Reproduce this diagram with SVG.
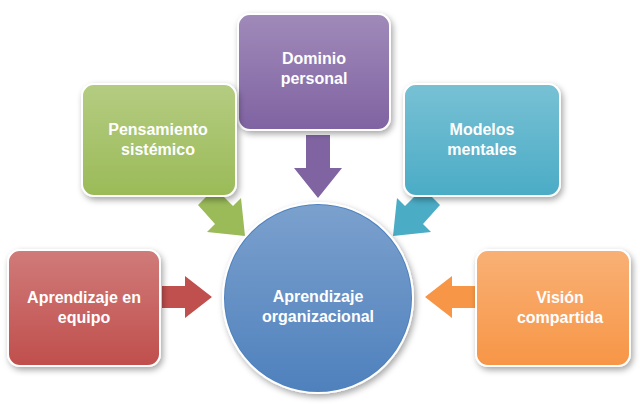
<svg xmlns="http://www.w3.org/2000/svg" width="640" height="412" viewBox="0 0 640 412">
<defs>
<filter id="sh" x="-20%" y="-20%" width="140%" height="140%"><feDropShadow dx="2" dy="3" stdDeviation="3" flood-color="#000" flood-opacity="0.35"/></filter>
<linearGradient id="gl" x1="0" y1="0" x2="0" y2="1"><stop offset="0" stop-color="#fff" stop-opacity="0.25"/><stop offset="1" stop-color="#fff" stop-opacity="0"/></linearGradient>
</defs>
<style>
text{font-family:"Liberation Sans",Arial,sans-serif;font-weight:bold;font-size:16px;fill:#fff;text-anchor:middle}
.b{stroke:#fff;stroke-width:2;filter:url(#sh)}
</style>
<rect width="640" height="412" fill="#fff"/>
<g id="connectors">
<polygon fill="#8064a2" points="306,135 330,135 330,168 342,168 318,198 294,168 306,168"/>
<polygon fill="#9bbb59" points="198,205 215,188 233,206 241,198 245,236 207,232 215,224"/>
<polygon fill="#4bacc6" points="440,205 423,188 405,206 397,198 393,236 431,232 423,224"/>
<polygon fill="#c0504d" points="162,286 185,286 185,276 212,297 185,318 185,308 162,308"/>
<polygon fill="#f79646" points="475,286 452,286 452,276 425,297 452,318 452,308 475,308"/>
</g>
<g id="n-dominio"><rect class="b" x="238" y="14" width="152" height="116" rx="12" fill="#8064a2"/><rect x="239" y="15" width="150" height="114" rx="11" fill="url(#gl)"/><text x="314" y="64">Dominio</text><text x="314" y="84">personal</text></g>
<g id="n-pensamiento"><rect class="b" x="82" y="84" width="154" height="112" rx="12" fill="#9bbb59"/><rect x="83" y="85" width="152" height="110" rx="11" fill="url(#gl)"/><text x="158" y="135">Pensamiento</text><text x="158" y="155">sistémico</text></g>
<g id="n-modelos"><rect class="b" x="404" y="84" width="156" height="112" rx="12" fill="#4bacc6"/><rect x="405" y="85" width="154" height="110" rx="11" fill="url(#gl)"/><text x="482" y="135">Modelos</text><text x="482" y="155">mentales</text></g>
<g id="n-equipo"><rect class="b" x="8" y="250" width="152" height="116" rx="12" fill="#c0504d"/><rect x="9" y="251" width="150" height="114" rx="11" fill="url(#gl)"/><text x="84" y="303">Aprendizaje en</text><text x="84" y="323">equipo</text></g>
<g id="n-vision"><rect class="b" x="476" y="250" width="154" height="116" rx="12" fill="#f79646"/><rect x="477" y="251" width="152" height="114" rx="11" fill="url(#gl)"/><text x="560" y="303">Visión</text><text x="560" y="323">compartida</text></g>
<g id="n-centro"><circle class="b" cx="318" cy="298" r="95" fill="#4f81bd"/><circle cx="318" cy="298" r="93" fill="url(#gl)"/><text x="318" y="302">Aprendizaje</text><text x="318" y="322">organizacional</text></g>
</svg>
